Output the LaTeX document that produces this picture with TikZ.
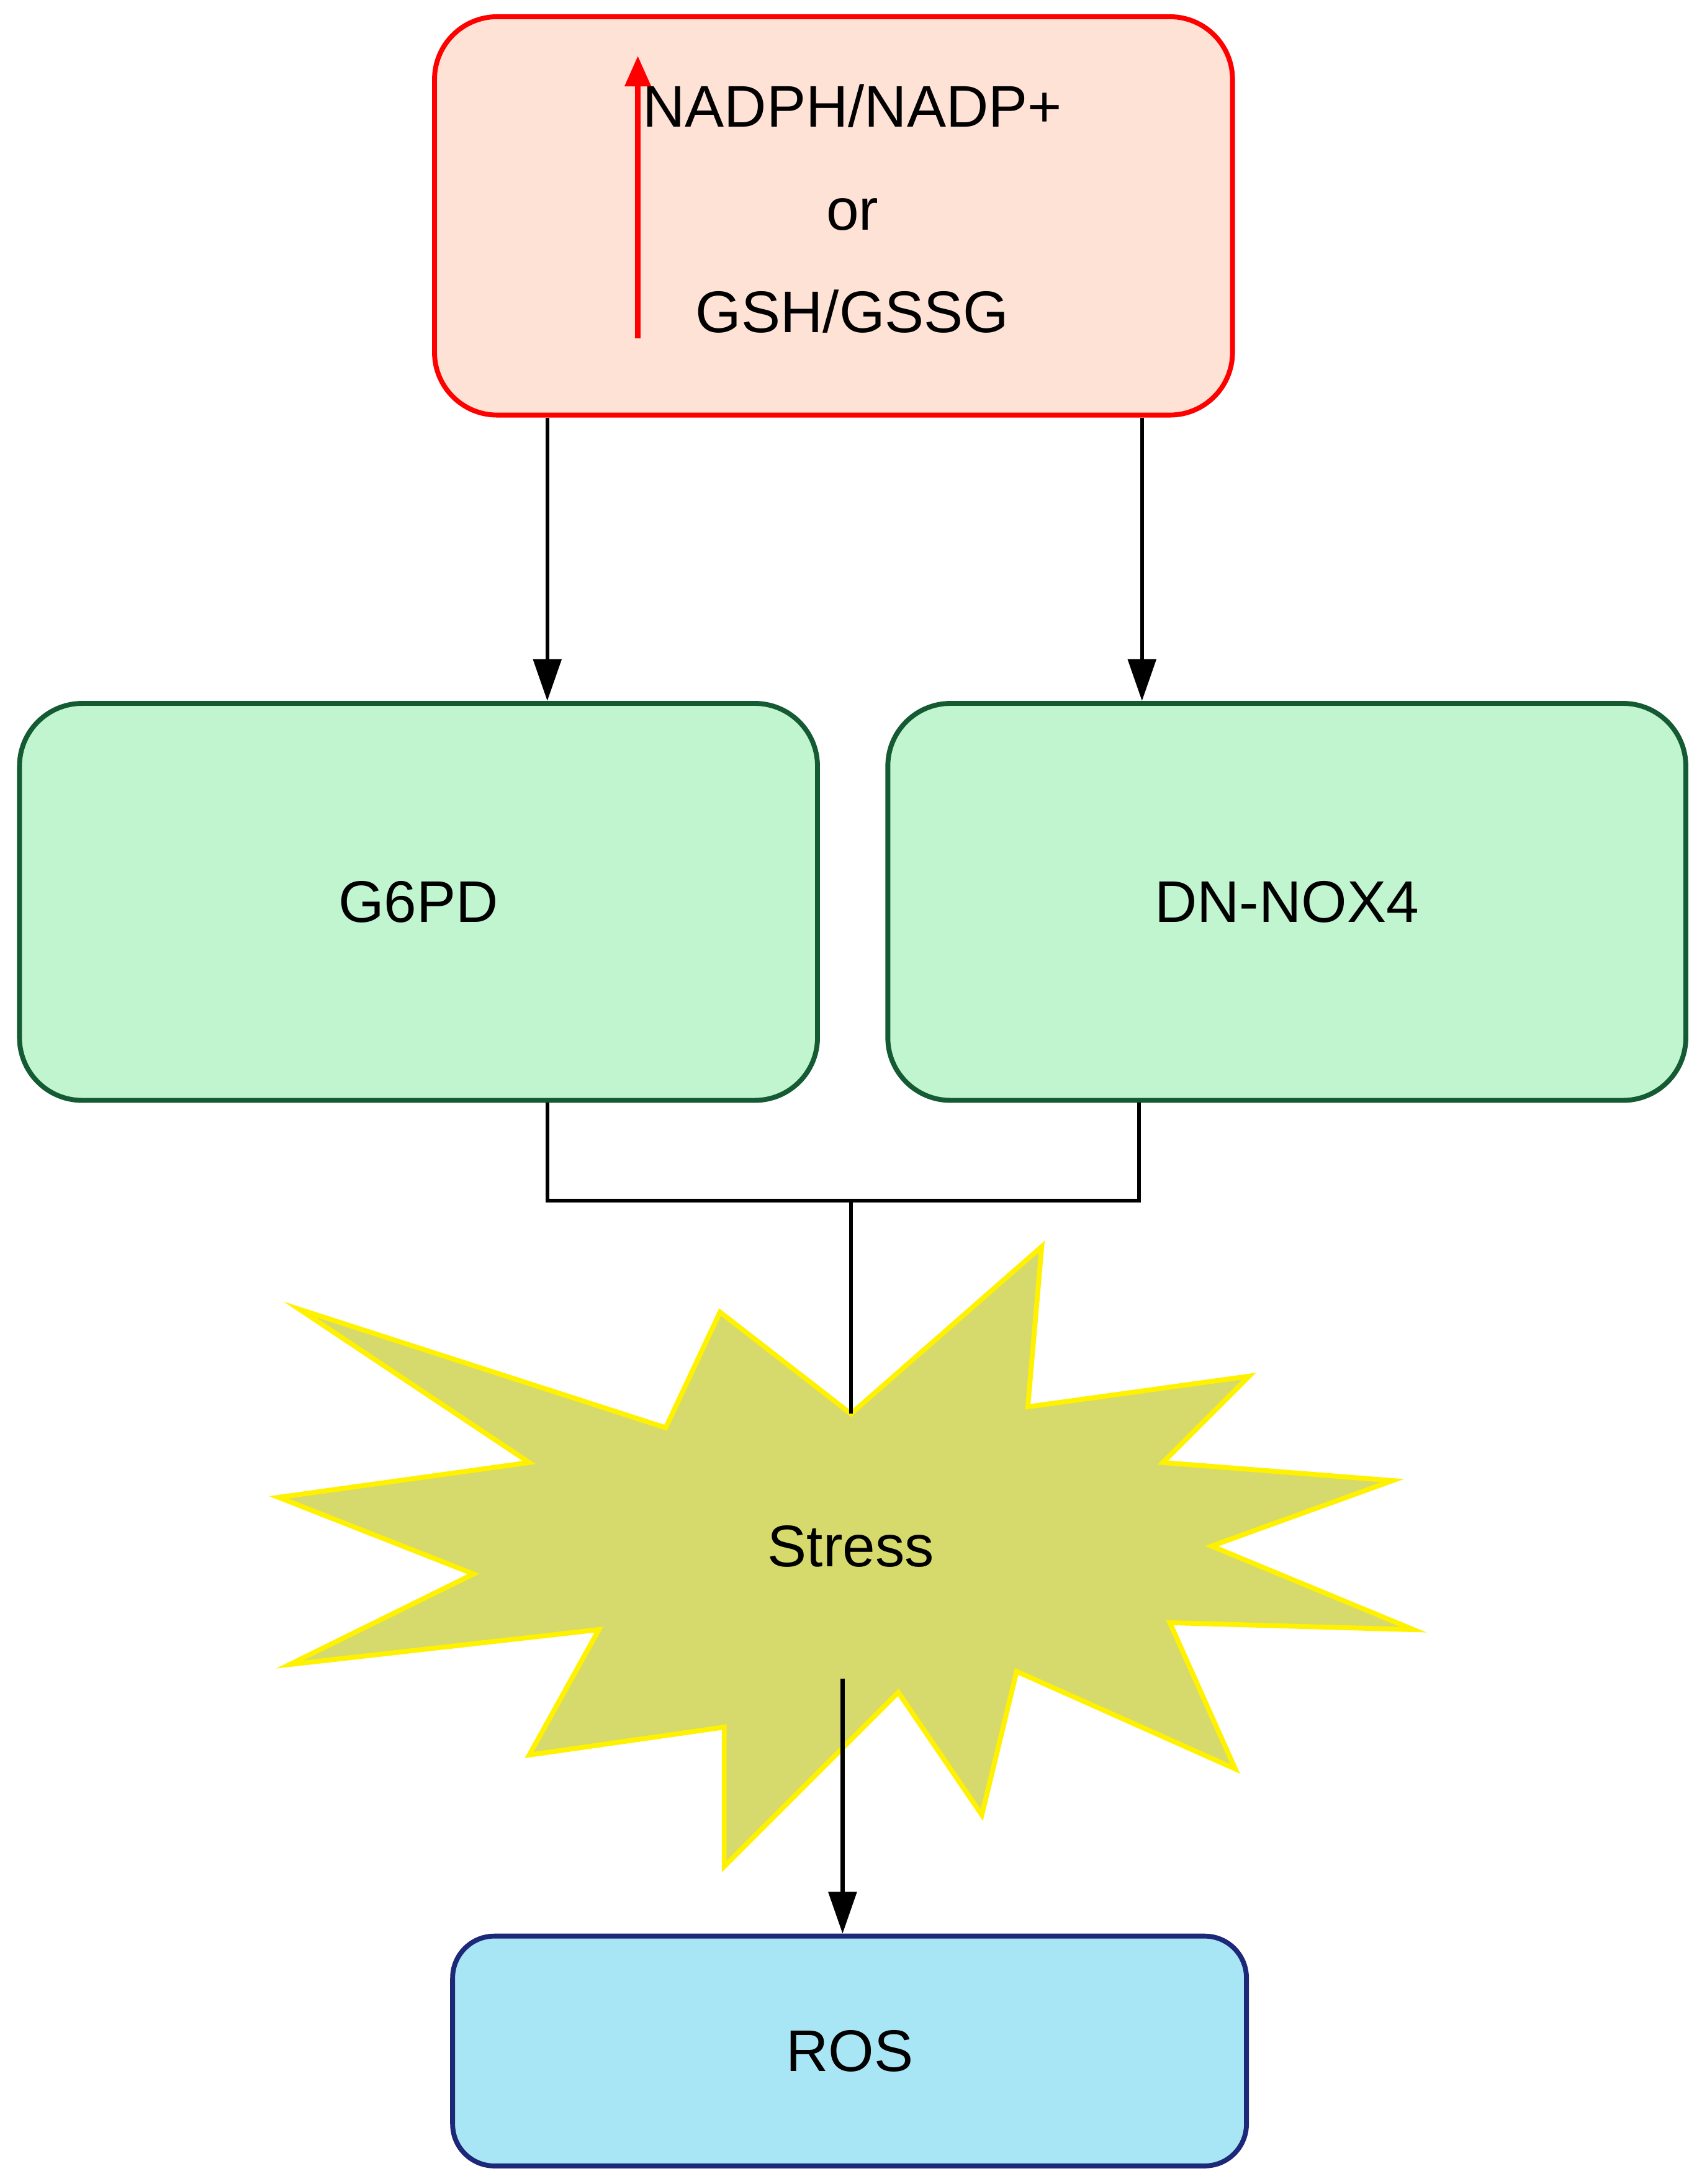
\documentclass[tikz,border=0pt]{standalone}
\usepackage{fontspec}
\setmainfont{Liberation Sans}
\usetikzlibrary{positioning,arrows.meta}
\definecolor{toppink}{RGB}{255,226,214}
\definecolor{boxgreen}{RGB}{192,245,208}
\definecolor{edgegreen}{RGB}{20,90,50}
\definecolor{starfill}{RGB}{214,218,108}
\definecolor{rosblue}{RGB}{168,230,245}
\definecolor{rosedge}{RGB}{30,40,120}
\tikzset{
  level/.style={
      draw=red,
      fill=toppink,
      rounded corners=0.45cm,
      line width=1pt,
      minimum width=5.73cm,
      minimum height=2.86cm,
  },
  enzyme/.style={
      draw=edgegreen,
      fill=boxgreen,
      rounded corners=0.45cm,
      line width=1pt,
      minimum width=5.73cm,
      minimum height=2.85cm,
  },
  result/.style={
      draw=rosedge,
      fill=rosblue,
      rounded corners=0.3cm,
      line width=1pt,
      minimum width=5.7cm,
      minimum height=1.65cm,
  },
  link/.style={
      draw=black,
      line width=0.8pt,
  },
  arrowlink/.style={
      link,
      -{Triangle[length=0.3cm,width=0.2cm]}
  }
}
\begin{document}
\begin{tikzpicture}[font=\fontsize{12}{21}\selectfont]
  \useasboundingbox (0,0) rectangle (12.22,-15.68);

  \node[level](ratio) at (5.985,-1.55) {};
  \node[align=center](ratiotext) at (6.12,-1.5) {NADPH/NADP+\\or\\GSH/GSSG};
  \draw[red,line width=1.2pt,-{Triangle[length=0.22cm,width=0.18cm]}]
    (4.58,-2.43) -- (4.58,-0.4);

  \node[enzyme](g6pd) at (3.005,-6.475) {G6PD};
  \node[enzyme](nox) at (9.24,-6.475) {DN-NOX4};

  \draw[arrowlink] (ratio.south -| 3.93,0) -- (g6pd.north -| 3.93,0);
  \draw[arrowlink] (ratio.south -| 8.2,0) -- (nox.north -| 8.2,0);

  % stress burst
  \draw[yellow,fill=starfill,line width=1pt]
    (2.15,-9.4) -- (4.78,-10.25) -- (5.17,-9.42) -- (6.11,-10.15) --
    (7.48,-8.95) -- (7.38,-10.1) -- (8.97,-9.88) -- (8.35,-10.5) --
    (10.0,-10.63) -- (8.7,-11.1) -- (10.15,-11.7) -- (8.4,-11.65) --
    (8.87,-12.7) -- (7.3,-12.0) -- (7.05,-13.03) -- (6.45,-12.15) --
    (5.2,-13.4) -- (5.2,-12.4) -- (3.8,-12.6) -- (4.3,-11.7) --
    (2.08,-11.95) -- (3.4,-11.3) -- (2.0,-10.75) -- (3.8,-10.5) -- cycle;
  \node(stress) at (6.11,-11.1) {Stress};

  \node[result](ros) at (6.1,-14.725) {ROS};

  \coordinate (join) at (6.11,-8.62);
  \coordinate (burst) at (6.11,-10.15);
  \coordinate (burstlow) at (6.05,-12.05);
  \draw[link] (g6pd.south -| 3.93,0) |- (join) -| (nox.south -| 8.18,0);
  \draw[link] (join) -- (burst);
  \draw[arrowlink] (burstlow) -- (burstlow |- ros.north);
\end{tikzpicture}
\end{document}
